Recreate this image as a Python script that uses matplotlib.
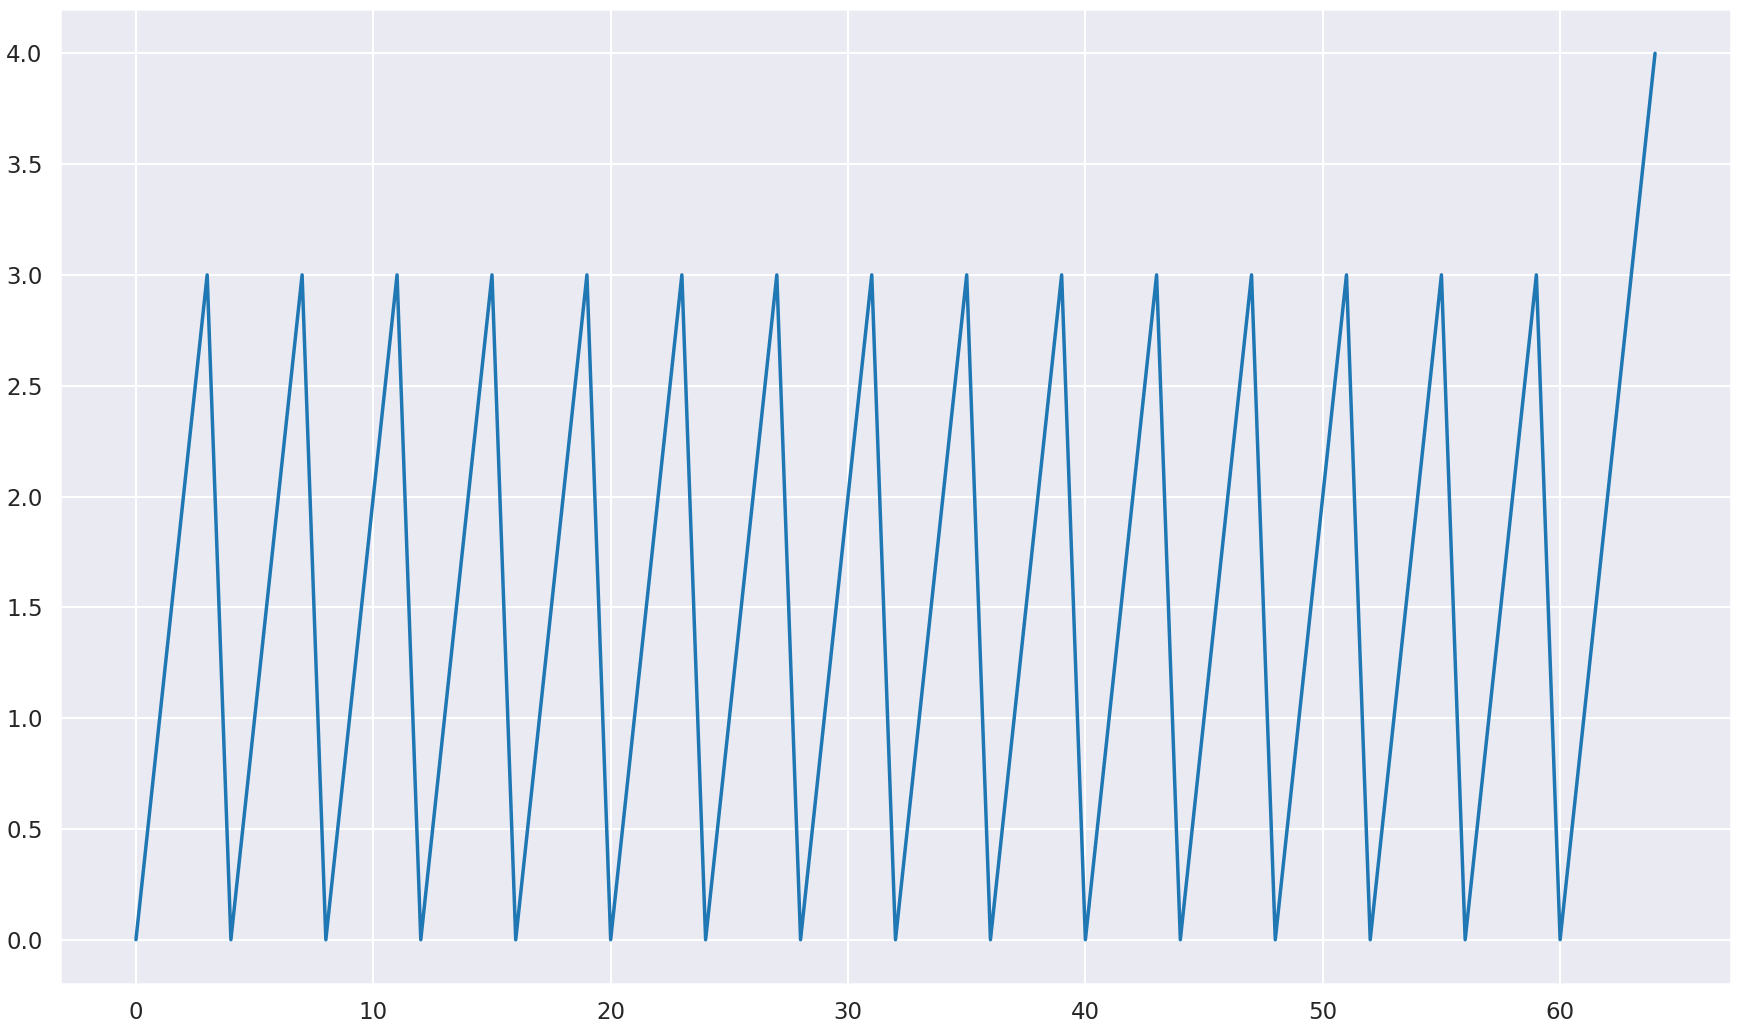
import matplotlib
matplotlib.use("Agg")
import matplotlib.pyplot as plt
import seaborn as sns

# sawtooth values, one per step
steps = list(range(65))
values = [0, 1, 2, 3, 0, 1, 2, 3, 0, 1, 2, 3, 0, 1, 2, 3,
          0, 1, 2, 3, 0, 1, 2, 3, 0, 1, 2, 3, 0, 1, 2, 3,
          0, 1, 2, 3, 0, 1, 2, 3, 0, 1, 2, 3, 0, 1, 2, 3,
          0, 1, 2, 3, 0, 1, 2, 3, 0, 1, 2, 3, 0, 1, 2, 3,
          4]

sns.set_theme(style="darkgrid", context="talk")

W, H = 1739, 1028
fig, ax = plt.subplots(figsize=(W / 100, H / 100), dpi=100)
ax.plot(steps, values, color="#1f77b4", linewidth=2.5)

fig.subplots_adjust(left=60 / W, right=1731 / W, bottom=1 - 984 / H, top=1 - 9 / H)
fig.savefig("out.png", dpi=100)
